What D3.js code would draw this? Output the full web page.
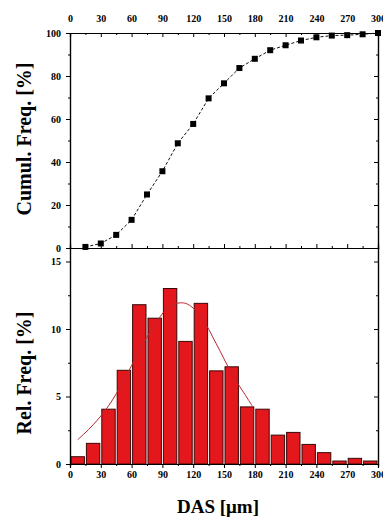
<!DOCTYPE html>
<html><head><meta charset="utf-8">
<script src="https://cdn.jsdelivr.net/npm/d3@7"></script>
<style>
body{margin:0;background:#fff;}
svg text{font-family:"Liberation Serif","Times New Roman",serif;font-weight:bold;}
</style></head>
<body>
<svg id="c" width="383" height="518"></svg>
<script>
// ---- data ----
const binStarts = [0,15,30,45,60,75,90,105,120,135,150,165,180,195,210,225,240,255,270,285];
const relFreq   = [0.54,1.53,4.06,6.94,11.8,10.8,13.0,9.08,11.9,6.9,7.2,4.23,4.06,2.14,2.34,1.45,0.84,0.22,0.42,0.22];
const cumX      = [15,30,45,60,75,90,105,120,135,150,165,180,195,210,225,240,255,270,285,300];
const cumY      = [0.5,2.1,6.1,13.1,24.9,35.7,48.7,57.7,69.6,76.6,83.7,88.0,92.0,94.3,96.5,98.0,98.8,99.0,99.4,100];
const fitX      = [7.5,22.5,37.5,52.5,67.5,82.5,97.5,112.5,127.5,142.5,157.5,172.5,177.5];
const fitY      = [1.8,2.9,4.3,6.2,8.4,10.3,11.7,11.9,10.9,8.9,6.7,4.9,4.3];
const xTicks    = [0,30,60,90,120,150,180,210,240,270,300];
const topYTicks = [0,20,40,60,80,100];
const botYTicks = [0,5,10,15];
const binWidth = 15;

const svg = d3.select("#c");
const x = d3.scaleLinear().domain([0,300]).range([70,378]);
const yT = d3.scaleLinear().domain([0,100]).range([248,33]);
const yB = d3.scaleLinear().domain([0,16]).range([464,248]);

const minorX = d3.range(15,300,30);

function styleAxis(g){
  g.select(".domain").attr("stroke","#000").attr("stroke-width",1.2);
  g.selectAll(".tick line").attr("stroke","#000").attr("stroke-width",1);
  g.selectAll("text").attr("font-size",10).attr("fill","#000");
}

// ---- top panel axes ----
svg.append("g").attr("transform",`translate(0,${yT(100)})`)
  .call(d3.axisTop(x).tickValues(xTicks).tickSize(-4).tickPadding(11).tickFormat(d3.format("d"))).call(styleAxis);
svg.append("g").attr("transform",`translate(0,${yT(100)})`)
  .call(d3.axisTop(x).tickValues(minorX).tickSize(-2).tickFormat("")).call(styleAxis);
svg.append("g").attr("transform",`translate(0,${yT(0)})`)
  .call(d3.axisBottom(x).tickValues(xTicks).tickSize(-4).tickFormat("")).call(styleAxis);
svg.append("g").attr("transform",`translate(0,${yT(0)})`)
  .call(d3.axisBottom(x).tickValues(minorX).tickSize(-2).tickFormat("")).call(styleAxis);
svg.append("g").attr("transform",`translate(${x(0)},0)`)
  .call(d3.axisLeft(yT).tickValues(topYTicks).tickSize(4).tickPadding(5)).call(styleAxis);
svg.append("g").attr("transform",`translate(${x(0)},0)`)
  .call(d3.axisLeft(yT).tickValues(d3.range(10,100,20)).tickSize(2).tickFormat("")).call(styleAxis);
svg.append("g").attr("transform",`translate(${x(300)},0)`)
  .call(d3.axisRight(yT).tickValues(topYTicks).tickSize(-4).tickFormat("")).call(styleAxis);
svg.append("g").attr("transform",`translate(${x(300)},0)`)
  .call(d3.axisRight(yT).tickValues(d3.range(10,100,20)).tickSize(-2).tickFormat("")).call(styleAxis);

// ---- bottom panel ----
const bars = svg.append("g");
bars.selectAll("rect").data(binStarts).join("rect")
  .attr("x",(d)=>x(d)+1)
  .attr("width",(d)=>x(d+binWidth)-x(d)-2)
  .attr("y",(d,i)=>yB(relFreq[i]))
  .attr("height",(d,i)=>yB(0)-yB(relFreq[i]))
  .attr("fill","#e3171c").attr("stroke","#3a0808").attr("stroke-width",1);

svg.append("path")
  .datum(fitX.map((d,i)=>[d,fitY[i]]))
  .attr("d",d3.line().x(d=>x(d[0])).y(d=>yB(d[1])).curve(d3.curveCatmullRom))
  .attr("fill","none").attr("stroke","#b8282e").attr("stroke-width",1);

svg.append("g").attr("transform",`translate(0,${yB(0)})`)
  .call(d3.axisBottom(x).tickValues(xTicks).tickSize(4).tickPadding(3).tickFormat(d3.format("d"))).call(styleAxis);
svg.append("g").attr("transform",`translate(0,${yB(0)})`)
  .call(d3.axisBottom(x).tickValues(minorX).tickSize(2).tickFormat("")).call(styleAxis);
svg.append("g").attr("transform",`translate(${x(0)},0)`)
  .call(d3.axisLeft(yB).tickValues(botYTicks).tickSize(4).tickPadding(5)).call(styleAxis);
svg.append("g").attr("transform",`translate(${x(0)},0)`)
  .call(d3.axisLeft(yB).tickValues([2.5,7.5,12.5]).tickSize(2).tickFormat("")).call(styleAxis);
svg.append("g").attr("transform",`translate(${x(300)},0)`)
  .call(d3.axisRight(yB).tickValues(botYTicks).tickSize(-4).tickFormat("")).call(styleAxis);
svg.append("g").attr("transform",`translate(${x(300)},0)`)
  .call(d3.axisRight(yB).tickValues([2.5,7.5,12.5]).tickSize(-2).tickFormat("")).call(styleAxis);

// ---- cumulative curve ----
svg.append("path")
  .datum(cumX.map((d,i)=>[d,cumY[i]]))
  .attr("d",d3.line().x(d=>x(d[0])).y(d=>yT(d[1])))
  .attr("fill","none").attr("stroke","#111").attr("stroke-width",1).attr("stroke-dasharray","3,2");
svg.append("g").selectAll("rect").data(cumX).join("rect")
  .attr("x",d=>x(d)-3).attr("y",(d,i)=>yT(cumY[i])-3)
  .attr("width",6).attr("height",6).attr("fill","#000");

// ---- titles ----
svg.append("text").attr("transform",`translate(31,139) rotate(-90)`)
  .attr("text-anchor","middle").attr("font-size",20).text("Cumul. Freq. [%]");
svg.append("text").attr("transform",`translate(31,373) rotate(-90)`)
  .attr("text-anchor","middle").attr("font-size",20).text("Rel. Freq. [%]");
svg.append("text").attr("x",218).attr("y",513)
  .attr("text-anchor","middle").attr("font-size",19).text("DAS [μm]");
</script>
</body></html>
